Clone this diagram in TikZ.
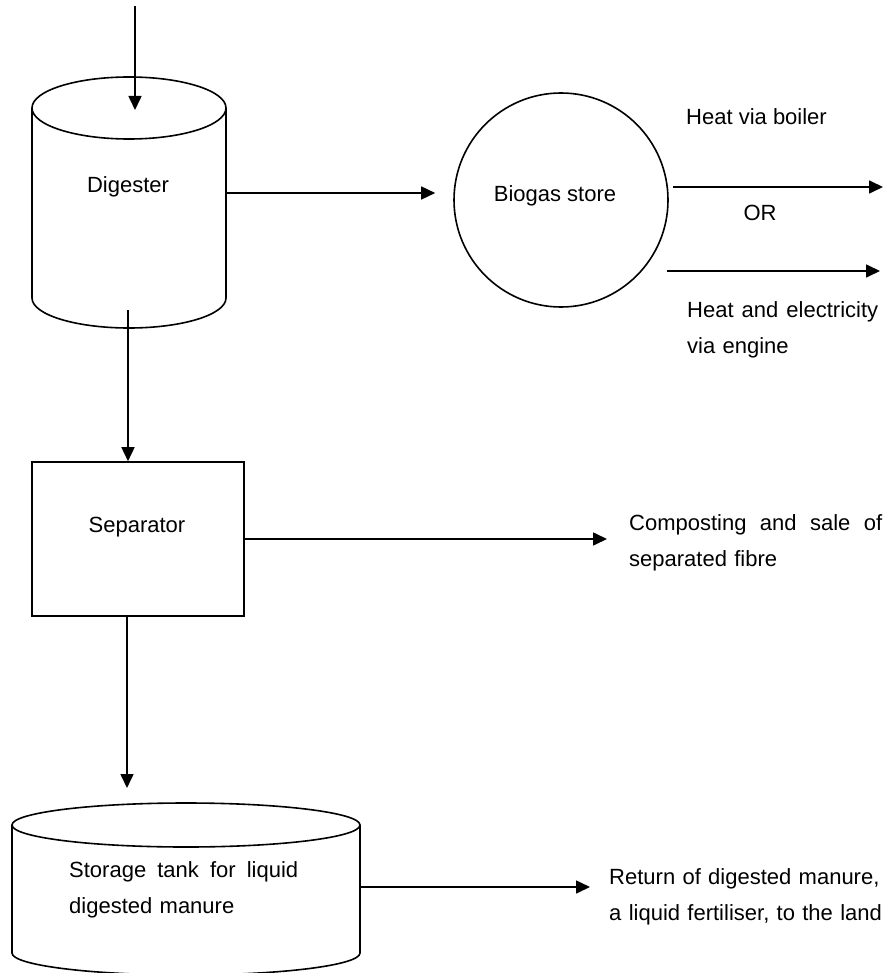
\documentclass[tikz,border=0pt]{standalone}
\usepackage{fontspec}
\setmainfont{Liberation Sans}
\usetikzlibrary{arrows.meta}
\begin{document}
\begin{tikzpicture}[x=1pt,y=-1pt,
  line/.style={line width=1.6pt, black},
  arr/.style={line, -{Triangle[length=14pt,width=13pt]}},
  lbl/.style={font=\fontsize{22}{36}\selectfont, inner sep=0pt},
  para/.style={lbl, text width=300pt, align=left, anchor=base west}]
\useasboundingbox (0,0) rectangle (888,973);

% Digester
\draw[line] (32,108) -- (32,298) arc[start angle=180,end angle=360,x radius=97pt,y radius=30pt] -- (226,108);
\draw[line] (129,108) ellipse [x radius=97pt, y radius=31pt];
\node[lbl, anchor=base] (digt) at (128,193) {Digester};
\coordinate (src) at (135,6);
\coordinate (digIn) at (135,110);
\coordinate (digR) at (226,193);
\coordinate (digB) at (128,310);
\draw[arr] (src) -- (digIn);

% Biogas store
\node[line, draw, circle, minimum size=214pt, inner sep=0pt] (bio) at (561,200) {};
\node[lbl, anchor=base] (biot) at (555,202) {Biogas store};
\draw[arr, shorten >=18pt] (digR) -- (digR -| bio.west);

\coordinate (boilA) at (673,187);
\coordinate (boilB) at (883,187);
\draw[arr] (boilA) -- (boilB);
\node[lbl, anchor=base west] (boilt) at (686,125) {Heat via boiler};
\node[lbl, anchor=base] (or) at (760,221) {OR};
\coordinate (engA) at (667,271);
\coordinate (engB) at (880,271);
\draw[arr] (engA) -- (engB);
\node[para] (engt) at (687,317) {\makebox[191pt]{Heat\hfill and\hfill electricity}\\via engine};

% Separator
\node[line, draw, rectangle, minimum width=212pt, minimum height=154pt, inner sep=0pt] (sep) at (138,539) {};
\node[lbl, anchor=base] (sept) at (137,532) {Separator};
\draw[arr] (digB) -- (digB |- sep.north);
\coordinate (compA) at (607,539);
\draw[arr] (sep.east) -- (compA);
\node[para] (compt) at (629,530) {\makebox[253pt]{Composting\hfill and\hfill sale\hfill of}\\separated fibre};

% Storage tank
\coordinate (tankIn) at (127,788);
\draw[arr] (tankIn |- sep.south) -- (tankIn);
\draw[line] (12,825) -- (12,953) arc[start angle=180,end angle=360,x radius=174pt,y radius=22pt] -- (360,825);
\draw[line] (186,825) ellipse [x radius=174pt, y radius=22pt];
\node[para] (tankt) at (69,877) {\makebox[229pt]{Storage\hfill tank\hfill for\hfill liquid}\\digested manure};
\coordinate (tankR) at (360,887);
\coordinate (retA) at (590,887);
\draw[arr] (tankR) -- (retA);
\node[para] (rett) at (609,884) {Return of digested manure,\\a liquid fertiliser, to the land};
\end{tikzpicture}
\end{document}
